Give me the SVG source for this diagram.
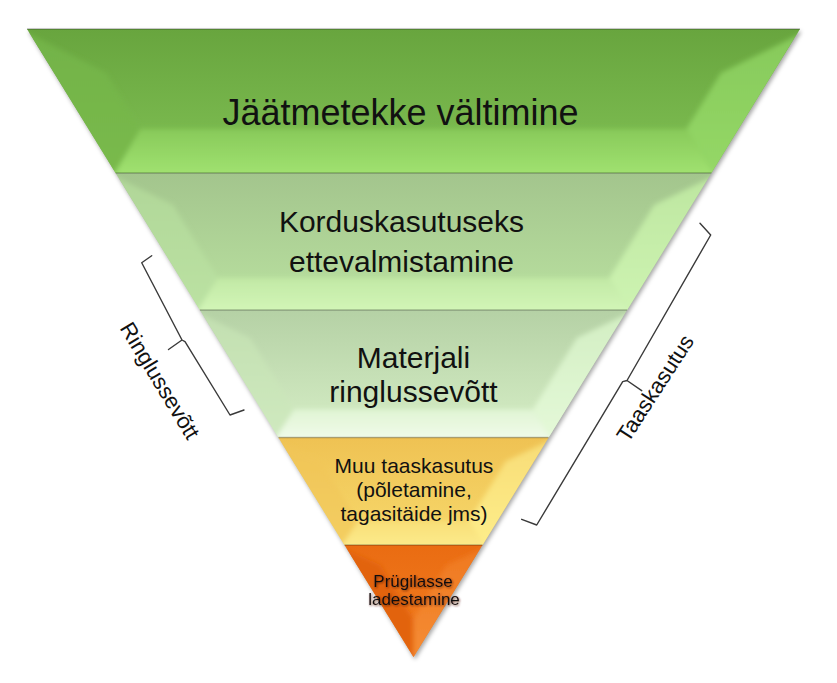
<svg xmlns="http://www.w3.org/2000/svg" width="837" height="683" viewBox="0 0 837 683">
<style>
.t{font-family:"Liberation Sans",Arial,sans-serif;fill:#111;text-anchor:middle}
.sep{stroke:#000;stroke-opacity:0.25;stroke-width:1.6}
.br{fill:none;stroke:#3a3a3a;stroke-width:1.4;stroke-linejoin:round;stroke-linecap:round}
.bv{filter:url(#soft)}
</style>
<defs>
<filter id="sh" x="-10%" y="-10%" width="120%" height="120%"><feGaussianBlur stdDeviation="2.2"/></filter>
<filter id="soft" x="-10%" y="-10%" width="120%" height="120%"><feGaussianBlur stdDeviation="2.5"/></filter>
<filter id="tg" x="-20%" y="-40%" width="140%" height="180%"><feDropShadow dx="0.8" dy="1" stdDeviation="1.3" flood-color="#5a1e00" flood-opacity="0.75"/></filter>
<clipPath id="c1"><polygon points="27,29 800,29 711.4,173 115.6,173"/></clipPath>
<clipPath id="c2"><polygon points="115.6,173 711.4,173 627.1,310 199.9,310"/></clipPath>
<clipPath id="c3"><polygon points="199.9,310 627.1,310 548.6,437.5 278.4,437.5"/></clipPath>
<clipPath id="c4"><polygon points="278.4,437.5 548.6,437.5 482.5,545 344.5,545"/></clipPath>
<clipPath id="c5"><polygon points="344.5,545 482.5,545 413.5,657"/></clipPath>
<linearGradient id="f1" x1="0" y1="0" x2="0" y2="1"><stop offset="0" stop-color="#68a53e"/><stop offset="1" stop-color="#80c054"/></linearGradient>
<linearGradient id="b1" x1="0" y1="0" x2="0" y2="1"><stop offset="0" stop-color="#88ca5a"/><stop offset="1" stop-color="#a6e776"/></linearGradient>
<linearGradient id="r1" x1="0" y1="0" x2="0" y2="1"><stop offset="0" stop-color="#86c95a"/><stop offset="1" stop-color="#96d968"/></linearGradient>
<linearGradient id="l1" x1="0" y1="0" x2="0" y2="1"><stop offset="0" stop-color="#72b347"/><stop offset="1" stop-color="#7aba4d"/></linearGradient>
<linearGradient id="f2" x1="0" y1="0" x2="0" y2="1"><stop offset="0" stop-color="#a3c58d"/><stop offset="1" stop-color="#bae1a0"/></linearGradient>
<linearGradient id="b2" x1="0" y1="0" x2="0" y2="1"><stop offset="0" stop-color="#c2e9a5"/><stop offset="1" stop-color="#d6f9bc"/></linearGradient>
<linearGradient id="r2" x1="0" y1="0" x2="0" y2="1"><stop offset="0" stop-color="#bde6a0"/><stop offset="1" stop-color="#cff5b3"/></linearGradient>
<linearGradient id="l2" x1="0" y1="0" x2="0" y2="1"><stop offset="0" stop-color="#b0d698"/><stop offset="1" stop-color="#bce3a3"/></linearGradient>
<linearGradient id="f3" x1="0" y1="0" x2="0" y2="1"><stop offset="0" stop-color="#b5d1a5"/><stop offset="1" stop-color="#d6eec6"/></linearGradient>
<linearGradient id="b3" x1="0" y1="0" x2="0" y2="1"><stop offset="0" stop-color="#e0f5d4"/><stop offset="1" stop-color="#f4fcef"/></linearGradient>
<linearGradient id="r3" x1="0" y1="0" x2="0" y2="1"><stop offset="0" stop-color="#d2eec2"/><stop offset="1" stop-color="#e6fada"/></linearGradient>
<linearGradient id="l3" x1="0" y1="0" x2="0" y2="1"><stop offset="0" stop-color="#c2dfb0"/><stop offset="1" stop-color="#d0eac0"/></linearGradient>
<linearGradient id="f4" x1="0" y1="0" x2="0" y2="1"><stop offset="0" stop-color="#efc253"/><stop offset="1" stop-color="#f7d96c"/></linearGradient>
<linearGradient id="b4" x1="0" y1="0" x2="0" y2="1"><stop offset="0" stop-color="#f8df78"/><stop offset="1" stop-color="#fdee92"/></linearGradient>
<linearGradient id="r4" x1="0" y1="0" x2="0" y2="1"><stop offset="0" stop-color="#f7dc76"/><stop offset="1" stop-color="#ffef8c"/></linearGradient>
<linearGradient id="l4" x1="0" y1="0" x2="0" y2="1"><stop offset="0" stop-color="#f0c456"/><stop offset="1" stop-color="#f4cf62"/></linearGradient>
<linearGradient id="f5" x1="0" y1="0" x2="0" y2="1"><stop offset="0" stop-color="#ea6c12"/><stop offset="1" stop-color="#f27e22"/></linearGradient>
<linearGradient id="r5" x1="0" y1="0" x2="0" y2="1"><stop offset="0" stop-color="#ef7820"/><stop offset="1" stop-color="#f58e36"/></linearGradient>
</defs>

<polygon points="27,29 800,29 413.5,657" fill="#000" fill-opacity="0.35" transform="translate(1.5,2.5)" filter="url(#sh)"/>

<g id="level1">
<polygon points="27,29 800,29 711.4,173 115.6,173" fill="url(#f1)"/>
<g clip-path="url(#c1)"><g class="bv">
<polygon points="20,29 106.1,73 140.5,129 108,185" fill="url(#l1)"/>
<polygon points="810,29 720.9,73 686.5,129 720,185" fill="url(#r1)"/>
<polygon points="108,185 140.5,129 686.5,129 720,185" fill="url(#b1)"/>
</g></g>
<line class="sep" x1="27" y1="29" x2="800" y2="29"/>
<text class="t" x="400.5" y="125" font-size="36">Jäätmetekke vältimine</text>
</g>

<g id="level2">
<polygon points="115.6,173 711.4,173 627.1,310 199.9,310" fill="url(#f2)"/>
<g clip-path="url(#c2)"><g class="bv">
<polygon points="108,173 172.9,205 217.8,278 192,320" fill="url(#l2)"/>
<polygon points="720,173 654.1,205 609.2,278 635,320" fill="url(#r2)"/>
<polygon points="192,320 217.8,278 609.2,278 635,320" fill="url(#b2)"/>
</g></g>
<line class="sep" x1="115.6" y1="173" x2="711.4" y2="173"/>
<text class="t" x="401.5" y="232" font-size="30">Korduskasutuseks</text>
<text class="t" x="401.5" y="272" font-size="30">ettevalmistamine</text>
</g>

<g id="level3">
<polygon points="199.9,310 627.1,310 548.6,437.5 278.4,437.5" fill="url(#f3)"/>
<g clip-path="url(#c3)"><g class="bv">
<polygon points="192,310 250.1,338 294.1,409.5 270,447" fill="url(#l3)"/>
<polygon points="635,310 576.9,338 532.9,409.5 556,447" fill="url(#r3)"/>
<polygon points="270,447 294.1,409.5 532.9,409.5 556,447" fill="url(#b3)"/>
</g></g>
<line class="sep" x1="199.9" y1="310" x2="627.1" y2="310"/>
<text class="t" x="413.5" y="367.5" font-size="30">Materjali</text>
<text class="t" x="413.5" y="401.7" font-size="30">ringlussevõtt</text>
</g>

<g id="level4">
<polygon points="278.4,437.5 548.6,437.5 482.5,545 344.5,545" fill="url(#f4)"/>
<g clip-path="url(#c4)"><g class="bv">
<polygon points="270,437.5 321.4,461.5 358,521 336,555" fill="url(#l4)"/>
<polygon points="556,437.5 505.6,461.5 469,521 490,555" fill="url(#r4)"/>
<polygon points="336,555 358,521 469,521 490,555" fill="url(#b4)"/>
</g></g>
<line class="sep" x1="278.4" y1="437.5" x2="548.6" y2="437.5"/>
<text class="t" x="414" y="473.3" font-size="21">Muu taaskasutus</text>
<text class="t" x="414" y="497.3" font-size="21">(põletamine,</text>
<text class="t" x="414" y="521.3" font-size="21">tagasitäide jms)</text>
</g>

<g id="level5">
<polygon points="344.5,545 482.5,545 413.5,657" fill="url(#f5)"/>
<g clip-path="url(#c5)"><g class="bv">
<polygon points="336,545 380.4,565 413.5,618.9 413.5,665" fill="#e2640e"/>
<polygon points="491,545 446.6,565 413.5,618.9 413.5,665" fill="url(#r5)"/>
</g></g>
<line class="sep" x1="344.5" y1="545" x2="482.5" y2="545"/>
<text class="t" x="413" y="586.7" font-size="17" filter="url(#tg)">Prügilasse</text>
<text class="t" x="414" y="605" font-size="17" filter="url(#tg)">ladestamine</text>
</g>

<g id="connectors">
<path class="br" d="M151.7,255.7 L141.7,262.7 L182,340 L168.5,349.5 M182,340 L185,341.7 L230,415 L244,410"/>
<path class="br" d="M700,223.3 L710.7,235 L627,380.5 L641.7,390.7 M627,380.5 L622.7,381.7 L536.7,525 L521.7,519.3"/>
</g>

<g id="label-ringlussevott">
<text class="t" font-size="22" transform="translate(153.4,384.6) rotate(58.8)">Ringlussevõtt</text>
</g>
<g id="label-taaskasutus">
<text class="t" font-size="22" transform="translate(661.5,392.2) rotate(-57)">Taaskasutus</text>
</g>
</svg>
